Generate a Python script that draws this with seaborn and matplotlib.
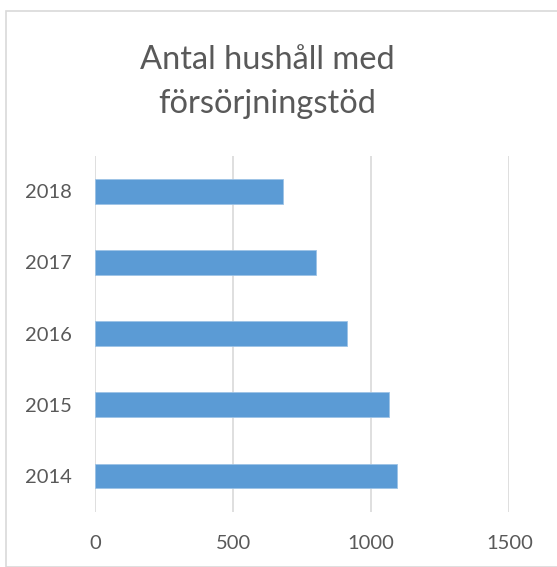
import matplotlib.pyplot as plt
import seaborn as sns
import pandas as pd
from matplotlib.patches import Rectangle

# data
years = ["2018", "2017", "2016", "2015", "2014"]
households = [680, 800, 912, 1063, 1092]
x_ticks = [0, 500, 1000, 1500]

sns.set_theme(style="white")
plt.rcParams['font.family'] = ['Lato', 'DejaVu Sans']

grey_text = "#595959"
grid_col = "#D9D9D9"
bar_col = "#5B9BD5"

df = pd.DataFrame({"year": years, "households": households})

fig = plt.figure(figsize=(5.57, 5.67), dpi=100)
ax = fig.add_axes([95 / 557, 1 - 511.6 / 567, 414.3 / 557, 355.9 / 567])

sns.barplot(data=df, x="households", y="year", order=years, orient="h",
            color=bar_col, width=0.35, saturation=1, ax=ax,
            edgecolor="#9DC3E6", linewidth=0.6, zorder=3)

ax.set_xlim(0, 1500)
ax.set_xticks(x_ticks)
ax.set_xticklabels([str(v) for v in x_ticks])
ax.set_xlabel("")
ax.set_ylabel("")
ax.grid(axis="x", color=grid_col, linewidth=1.2, zorder=0)
ax.grid(axis="y", visible=False)
for s in ax.spines.values():
    s.set_visible(False)
ax.tick_params(axis="both", length=0, labelsize=14.5, labelcolor=grey_text)
ax.tick_params(axis="y", pad=17)
ax.tick_params(axis="x", pad=17)

fig.text(267 / 557, 1 - 82 / 567, "Antal hushåll med\nförsörjningstöd",
         ha="center", va="center", fontsize=23.5, color=grey_text,
         linespacing=1.55)

# outer chart frame
fig.patches.append(Rectangle((6 / 557, 0), 1, 1 - 11 / 567,
                             transform=fig.transFigure, fill=False,
                             edgecolor="#D9D9D9", linewidth=1.2))

fig.savefig("out.png", dpi=100)
